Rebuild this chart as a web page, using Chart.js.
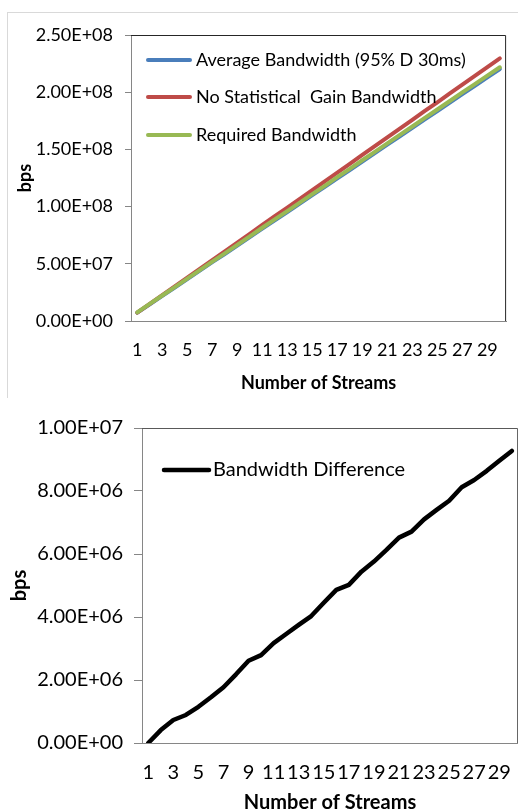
<!DOCTYPE html>
<html>
<head>
<meta charset="utf-8">
<script src="https://cdn.jsdelivr.net/npm/chart.js@4.4.0/dist/chart.umd.min.js"></script>
<style>
  html, body { margin: 0; padding: 0; background: #fff; overflow: hidden; }
  body { width: 518px; height: 810px; position: relative; }
  #frame { position: absolute; left: 7px; top: 12px; width: 530px; height: 385px;
           border-left: 1px solid #d9d9d9; border-top: 1px solid #d9d9d9; }
  #wrapTop { position: absolute; left: 0; top: 0; width: 518px; height: 400px; }
  #wrapBottom { position: absolute; left: 0; top: 400px; width: 530px; height: 420px; }
</style>
</head>
<body>
<div id="frame"></div>
<div id="wrapTop"><canvas id="topChart"></canvas></div>
<div id="wrapBottom"><canvas id="bottomChart"></canvas></div>

<script>
// Data (bandwidths in Mbps, converted to bps below)
const streams = [1, 2, 3, 4, 5, 6, 7, 8, 9, 10, 11, 12, 13, 14, 15,
  16, 17, 18, 19, 20, 21, 22, 23, 24, 25, 26, 27, 28, 29, 30];

const avgBandwidthMbps = [7.3, 14.6, 22.0, 29.3, 36.6, 44.0, 51.5, 58.6, 65.9, 73.3,
  80.8, 88.1, 95.3, 102.7, 110.0, 117.2, 124.7, 132.0, 139.4, 146.8,
  154.1, 161.5, 168.8, 176.2, 183.5, 190.9, 198.3, 205.6, 213.0, 220.3];

const noGainBandwidthMbps = [7.3, 15.0, 22.7, 30.2, 37.8, 45.5, 53.3, 60.8, 68.5, 76.1,
  84.0, 91.6, 99.1, 106.7, 114.5, 122.1, 129.7, 137.4, 145.2, 152.9,
  160.6, 168.2, 175.9, 183.6, 191.2, 199.0, 206.7, 214.2, 222.0, 229.6];

const requiredBandwidthMbps = [7.5, 14.9, 22.3, 29.6, 37.0, 44.4, 51.9, 59.1, 66.5, 73.9,
  81.5, 88.8, 96.1, 103.5, 110.9, 118.1, 125.7, 133.0, 140.5, 147.9,
  155.3, 162.7, 170.0, 177.5, 184.9, 192.3, 199.8, 207.1, 214.5, 221.8];

const differenceMbps = [0.0, 0.41, 0.73, 0.89, 1.15, 1.45, 1.77, 2.18, 2.61, 2.79,
  3.17, 3.46, 3.75, 4.03, 4.45, 4.86, 5.02, 5.44, 5.76, 6.13,
  6.52, 6.71, 7.10, 7.40, 7.69, 8.12, 8.35, 8.64, 8.96, 9.27];

const topYTicks = [0, 5e7, 1e8, 1.5e8, 2e8, 2.5e8];
const bottomYTicks = [0, 2e6, 4e6, 6e6, 8e6, 1e7];

const FONT = "Lato";
const AXIS_GRAY = "#868686";

// Excel style 0.00E+00
function sciLabel(v) {
  const [m, e] = Number(v).toExponential(2).split("e");
  const sign = e[0] === "-" ? "-" : "+";
  const digits = e.replace(/[+-]/, "").padStart(2, "0");
  return `${m}E${sign}${digits}`;
}

const toBps = (arr) => arr.map((v) => v * 1e6);

// top + right edge of the plot area
const plotBorder = {
  id: "plotBorder",
  beforeDatasetsDraw(chart, args, opts) {
    const { left, top, right, bottom } = chart.chartArea;
    const ctx = chart.ctx;
    ctx.save();
    ctx.strokeStyle = opts.color || "#000";
    ctx.lineWidth = 1;
    ctx.beginPath();
    ctx.moveTo(left, top + 0.5);
    ctx.lineTo(right - 0.5, top + 0.5);
    ctx.lineTo(right - 0.5, bottom);
    ctx.stroke();
    ctx.restore();
  },
};

// legend drawn inside the plot, like the Excel original
const insideLegend = {
  id: "insideLegend",
  afterDraw(chart, args, opts) {
    if (!opts.rows) return;
    const ctx = chart.ctx;
    ctx.save();
    ctx.font = opts.font;
    ctx.textBaseline = "middle";
    ctx.lineCap = "round";
    chart.data.datasets.forEach((ds, i) => {
      const y = opts.rows[i];
      ctx.strokeStyle = ds.borderColor;
      ctx.lineWidth = ds.borderWidth;
      ctx.beginPath();
      ctx.moveTo(opts.lineStart, y);
      ctx.lineTo(opts.lineEnd, y);
      ctx.stroke();
      ctx.fillStyle = "#000";
      ctx.fillText(ds.label, opts.textX, y);
    });
    ctx.restore();
  },
};

function makeOptions(cfg) {
  return {
    responsive: true,
    maintainAspectRatio: false,
    animation: false,
    layout: { padding: cfg.padding },
    elements: { point: { radius: 0 } },
    plugins: {
      legend: { display: false },
      tooltip: { enabled: false },
      plotBorder: { color: cfg.borderColor },
      insideLegend: cfg.legend,
    },
    scales: {
      x: {
        type: "category",
        offset: true,
        grid: { display: false, drawTicks: false },
        border: { display: true, color: AXIS_GRAY, width: 1 },
        ticks: {
          autoSkip: false,
          maxRotation: 0,
          minRotation: 0,
          padding: cfg.xTickPad,
          color: "#000",
          font: { family: FONT, size: cfg.fontSize },
          callback: function (v, i) {
            return i % 2 === 0 ? this.getLabelForValue(v) : "";
          },
        },
        title: {
          display: true,
          text: "Number of Streams",
          color: "#000",
          font: { family: FONT, size: cfg.titleSize, weight: "bold" },
          padding: { top: 0, bottom: cfg.xTitlePad },
        },
        afterFit: (s) => { s.height = cfg.xHeight; },
      },
      y: {
        min: 0,
        max: cfg.yTicks[cfg.yTicks.length - 1],
        afterBuildTicks: (s) => { s.ticks = cfg.yTicks.map((v) => ({ value: v })); },
        grid: { drawOnChartArea: false, drawTicks: true, tickLength: cfg.tickLen, color: AXIS_GRAY },
        border: { display: true, color: AXIS_GRAY, width: 1 },
        ticks: {
          padding: cfg.yTickPad,
          color: "#000",
          font: { family: FONT, size: cfg.fontSize },
          callback: (v) => sciLabel(v),
        },
        title: {
          display: true,
          text: "bps",
          color: "#000",
          font: { family: FONT, size: cfg.titleSize, weight: "bold" },
          padding: { top: cfg.yTitlePad, bottom: 0 },
        },
        afterFit: (s) => { s.width = cfg.yWidth; },
      },
    },
  };
}

function drawCharts() {
  new Chart(document.getElementById("topChart"), {
    type: "line",
    data: {
      labels: streams,
      datasets: [
        {
          label: "Average Bandwidth (95% D 30ms)",
          data: toBps(avgBandwidthMbps),
          borderColor: "#4A7EBB",
          borderWidth: 4,
          order: 2,
        },
        {
          label: "No Statistical  Gain Bandwidth",
          data: toBps(noGainBandwidthMbps),
          borderColor: "#BE4B48",
          borderWidth: 4,
          order: 1,
        },
        {
          label: "Required Bandwidth",
          data: toBps(requiredBandwidthMbps),
          borderColor: "#98B954",
          borderWidth: 4,
          order: 0,
        },
      ].map((d) => ({ ...d, tension: 0, borderCapStyle: "round", borderJoinStyle: "round", fill: false })),
    },
    options: makeOptions({
      padding: { left: 0, top: 35, right: 9, bottom: 0 },
      borderColor: "#262626",
      fontSize: 18,
      titleSize: 18,
      xTickPad: 18,
      xTitlePad: 6,
      xHeight: 79,
      yTicks: topYTicks,
      tickLen: 6,
      yTickPad: 12,
      yTitlePad: 14,
      yWidth: 131,
      legend: { rows: [60, 97, 135], lineStart: 148, lineEnd: 190, textX: 196, font: `18px ${FONT}` },
    }),
    plugins: [plotBorder, insideLegend],
  });

  new Chart(document.getElementById("bottomChart"), {
    type: "line",
    data: {
      labels: streams,
      datasets: [
        {
          label: "Bandwidth Difference",
          data: toBps(differenceMbps),
          borderColor: "#000000",
          borderWidth: 4.5,
          tension: 0,
          borderCapStyle: "round",
          borderJoinStyle: "round",
          fill: false,
        },
      ],
    },
    options: makeOptions({
      padding: { left: 0, top: 28, right: 11, bottom: 0 },
      borderColor: "#595959",
      fontSize: 20,
      titleSize: 20,
      xTickPad: 18,
      xTitlePad: 5,
      xHeight: 77,
      yTicks: bottomYTicks,
      tickLen: 8,
      yTickPad: 11,
      yTitlePad: 8,
      yWidth: 142,
      legend: { rows: [70], lineStart: 164, lineEnd: 209, textX: 213, font: `20px ${FONT}` },
    }),
    plugins: [plotBorder, insideLegend],
  });
}

Promise.all([
  document.fonts.load(`16px ${FONT}`),
  document.fonts.load(`bold 16px ${FONT}`),
]).then(drawCharts, drawCharts);
</script>
</body>
</html>
